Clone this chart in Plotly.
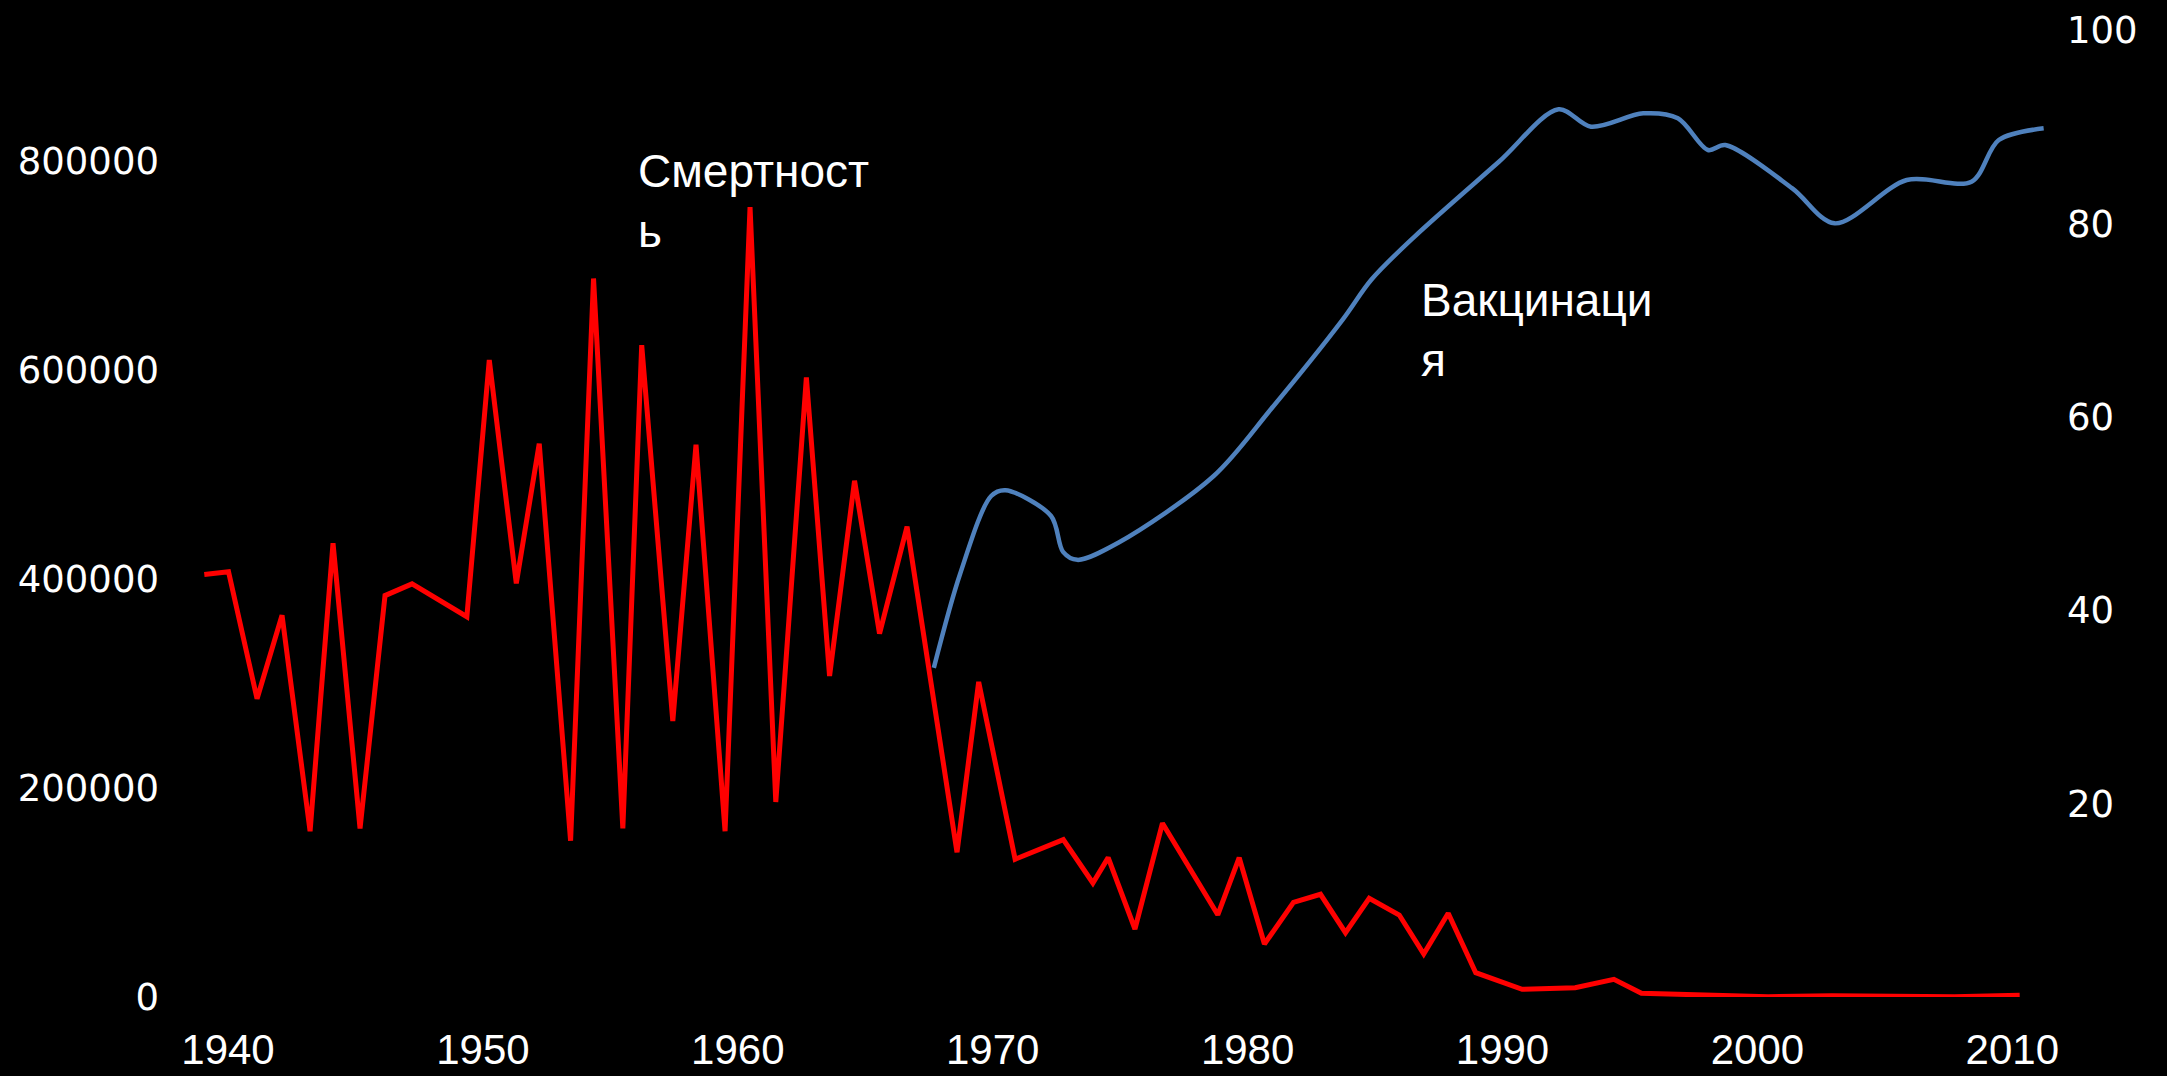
import plotly.graph_objects as go

# ---- data ----
mort_years = [1939.07, 1940.02, 1941.14, 1942.12, 1943.22, 1944.12, 1945.18, 1946.16, 1947.22,
              1949.37, 1950.25, 1951.31, 1952.21, 1953.44, 1954.34, 1955.49, 1956.23, 1957.45,
              1958.36, 1959.50, 1960.48, 1961.49, 1962.69, 1963.60, 1964.58, 1965.56, 1966.64,
              1968.60, 1969.45, 1970.88, 1972.77, 1973.93, 1974.53, 1975.58, 1976.66, 1978.83,
              1979.67, 1980.66, 1981.80, 1982.86, 1983.84, 1984.77, 1985.95, 1986.91, 1987.87,
              1988.95, 1990.77, 1992.85, 1994.37, 1995.45, 2000.42, 2002.92, 2007.73, 2010.29]
mort_values = [404400, 407000, 285360, 365360, 158660, 434260, 161250, 384120, 395310,
               363920, 609570, 395790, 529570, 149570, 687560, 161250, 623730, 264115,
               528520, 158660, 755980, 186600, 592820, 307180, 494070, 347660, 450050,
               138470, 301530, 131870, 150620, 109090, 133400, 65070, 166320, 78660,
               133400, 50720, 90620, 98280, 61530, 94450, 78470, 41150, 80100,
               23250, 7370, 8900, 16940, 3540, 300, 1240, 300, 1630]

vac_years = [1967.69, 1968.72, 1969.94, 1970.50, 1972.29, 1972.76, 1973.32, 1974.91, 1978.67,
             1980.92, 1983.73, 1984.86, 1986.54, 1989.86, 1992.20, 1993.47, 1995.52, 1996.88,
             1998.06, 1998.74, 2001.37, 2003.03, 2005.86, 2008.40, 2009.47, 2011.23]
vac_values = [34.05, 43.77, 51.84, 52.44, 49.77, 46.06, 45.23, 46.98, 53.91,
              60.84, 70.09, 74.24, 78.66, 86.42, 91.85, 90.05, 91.43, 90.92,
              87.64, 88.15, 83.67, 80.05, 84.53, 84.36, 88.67, 89.88]

x_ticks = [1940, 1950, 1960, 1970, 1980, 1990, 2000, 2010]
left_ticks = [0, 200000, 400000, 600000, 800000]
right_ticks = [20, 40, 60, 80, 100]
label_mort = "Смертност<br>ь"
label_vac = "Вакцинаци<br>я"

# ---- layout geometry (pixels) ----
W, H = 2167, 1076
PL, PR, PT, PB = 190, 2050, 20, 997


def px_x(p):
    return (p - PL) / (PR - PL)


def px_y(p):
    return (PB - p) / (PB - PT)


fig = go.Figure()
fig.add_trace(go.Scatter(x=mort_years, y=mort_values, mode="lines",
                         line=dict(color="#FF0000", width=5), name="Смертность",
                         yaxis="y"))
fig.add_trace(go.Scatter(x=vac_years, y=vac_values, mode="lines",
                         line=dict(color="#4F81BD", width=4.5, shape="spline", smoothing=0.9),
                         name="Вакцинация", yaxis="y2"))

tick_font = dict(family="DejaVu Sans", size=37, color="white")

fig.update_layout(
    width=W, height=H,
    margin=dict(l=PL, r=W - PR, t=PT, b=H - PB, pad=0, autoexpand=False),
    paper_bgcolor="black", plot_bgcolor="black",
    showlegend=False,
    xaxis=dict(range=[1938.509, 2011.479], tickvals=x_ticks,
               ticktext=[str(v) for v in x_ticks], automargin=False,
               showgrid=False, zeroline=False, showline=False, ticks="",
               tickfont=dict(family="Liberation Sans", size=42, color="white"),
               ticklabelstandoff=24),
    yaxis=dict(range=[0, 934928], tickvals=left_ticks,
               ticktext=[str(v) for v in left_ticks], automargin=False,
               showgrid=False, zeroline=False, showline=False, ticks="",
               tickfont=tick_font, ticklabelstandoff=30),
    yaxis2=dict(range=[0, 101.09], tickvals=right_ticks,
                ticktext=[str(v) for v in right_ticks], automargin=False,
                overlaying="y", side="right",
                showgrid=False, zeroline=False, showline=False, ticks="",
                tickfont=tick_font, ticklabelstandoff=16),
    annotations=[
        dict(text=label_mort, xref="paper", yref="paper", x=px_x(636), y=px_y(143),
             xanchor="left", yanchor="top", align="left", showarrow=False,
             font=dict(family="Liberation Sans", size=46, color="white")),
        dict(text=label_vac, xref="paper", yref="paper", x=px_x(1419), y=px_y(272),
             xanchor="left", yanchor="top", align="left", showarrow=False,
             font=dict(family="Liberation Sans", size=46, color="white")),
    ],
)

fig.write_html("out.html", config={"displayModeBar": False},
               post_script="document.body.style.margin='0';document.body.style.overflow='hidden';")
